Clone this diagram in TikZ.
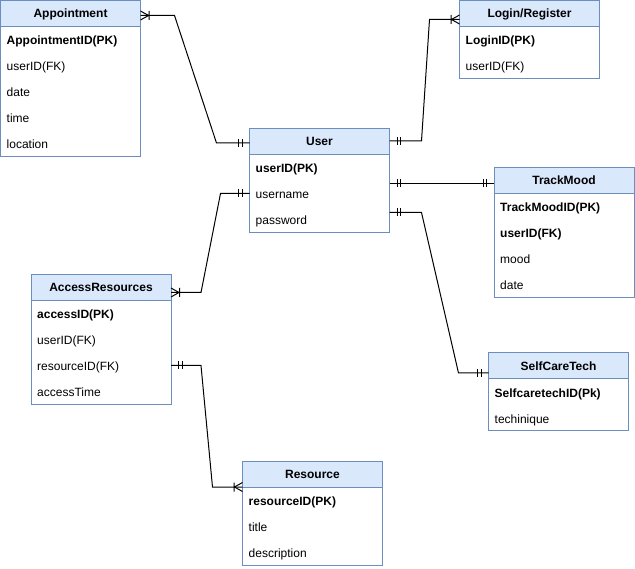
\documentclass[tikz,border=0pt]{standalone}
\usepackage{fontspec}
\setmainfont{Liberation Sans}
\usetikzlibrary{calc}

\definecolor{erline}{HTML}{6C8EBF}
\definecolor{erfill}{HTML}{DAE8FC}
\newcommand\erfont{\fontsize{12pt}{14pt}\selectfont}

\tikzset{
  hdr/.style={draw=erline, fill=erfill, line width=1pt, minimum width=140pt,
    minimum height=26pt, inner sep=0pt, outer sep=0pt,
    font=\erfont\bfseries, text height=9pt, text depth=0pt},
  bodybox/.style={draw=erline, fill=white, line width=1pt, minimum width=140pt,
    inner sep=0pt, outer sep=0pt},
  fld/.style={anchor=base west, inner sep=0pt, font=\erfont},
  conn/.style={draw=black, line width=1pt},
}

% entity box: name, x, y (top left), title, number of rows
\newcommand\erbox[5]{%
  \node[hdr, anchor=north west] (#1) at (#2,#3) {#4};
  \node[bodybox, minimum height=#5*26pt, anchor=north west] (#1-b) at (#1.south west) {};}
% field row: entity, row index, text
\newcommand\erow[3]{%
  \node[fld] (#1-#2) at ($(#1.south west)+(6,#2*26-7.5)$) {#3};}
% mandatory-one marker: end point, direction of the line away from the box
\newcommand\mone[2]{%
  \draw[conn] ($(#1)+(#2*7.5,-4)$) -- ++(0,8) ($(#1)+(#2*11,-4)$) -- ++(0,8);}
% one-or-many marker: end point, direction of the line away from the box
\newcommand\crow[2]{%
  \draw[conn] ($(#1)+(0,-4.5)$) -- ($(#1)+(#2*8,0)$) -- ($(#1)+(0,4.5)$)
    ($(#1)+(#2*8.5,-4.5)$) -- ++(0,9);}

\begin{document}
\begin{tikzpicture}[x=1pt, y=-1pt, font=\erfont]
\useasboundingbox (0,0) rectangle (635,569);

% entities
\erbox{appt}{0.5}{0.5}{Appointment}{5}
\erow{appt}{1}{\textbf{AppointmentID(PK)}}
\erow{appt}{2}{userID(FK)}
\erow{appt}{3}{date}
\erow{appt}{4}{time}
\erow{appt}{5}{location}

\erbox{login}{459.5}{0.5}{Login/Register}{2}
\erow{login}{1}{\textbf{LoginID(PK)}}
\erow{login}{2}{userID(FK)}

\erbox{user}{249.5}{128.5}{User}{3}
\erow{user}{1}{\textbf{userID(PK)}}
\erow{user}{2}{username}
\erow{user}{3}{password}

\erbox{track}{494}{167.5}{TrackMood}{4}
\erow{track}{1}{\textbf{TrackMoodID(PK)}}
\erow{track}{2}{\textbf{userID(FK)}}
\erow{track}{3}{mood}
\erow{track}{4}{date}

\erbox{access}{31}{274.5}{AccessResources}{4}
\erow{access}{1}{\textbf{accessID(PK)}}
\erow{access}{2}{userID(FK)}
\erow{access}{3}{resourceID(FK)}
\erow{access}{4}{accessTime}

\erbox{self}{488.5}{353}{SelfCareTech}{2}
\erow{self}{1}{\textbf{SelfcaretechID(Pk)}}
\erow{self}{2}{techinique}

\erbox{res}{242.5}{461}{Resource}{3}
\erow{res}{1}{\textbf{resourceID(PK)}}
\erow{res}{2}{title}
\erow{res}{3}{description}

% relationships
\draw[conn] ($(appt.north east)+(0,15)$) coordinate (c1a) -- ++(34,0)
  -- ($(user.west)+(-33,1.5)$) -- ($(user.west)+(0,1.5)$) coordinate (c1b);
\crow{c1a}{1}
\mone{c1b}{-1}

\draw[conn] ($(user.east)+(0,-0.5)$) coordinate (c2a) -- ++(32,0)
  -- ($(login.north west)+(-30,19)$) -- ($(login.north west)+(0,19)$) coordinate (c2b);
\mone{c2a}{1}
\crow{c2b}{-1}

\draw[conn] ($(user.north east)+(0,55)$) coordinate (c3a) -- (c3a -| track.west) coordinate (c3b);
\mone{c3a}{1}
\mone{c3b}{-1}

\draw[conn] ($(user.north east)+(0,84)$) coordinate (c4a) -- ++(32,0)
  -- ($(self.north west)+(-30,20)$) -- ($(self.north west)+(0,20)$) coordinate (c4b);
\mone{c4a}{1}
\mone{c4b}{-1}

\draw[conn] ($(user.north west)+(0,65)$) coordinate (c5a) -- ++(-29,0)
  -- ($(access.north east)+(30,18)$) -- ($(access.north east)+(0,18)$) coordinate (c5b);
\mone{c5a}{-1}
\crow{c5b}{1}

\draw[conn] ($(access.north east)+(0,91)$) coordinate (c6a) -- ++(30,0)
  -- ($(res.north west)+(-30,26)$) -- ($(res.north west)+(0,26)$) coordinate (c6b);
\mone{c6a}{1}
\crow{c6b}{-1}
\end{tikzpicture}
\end{document}
